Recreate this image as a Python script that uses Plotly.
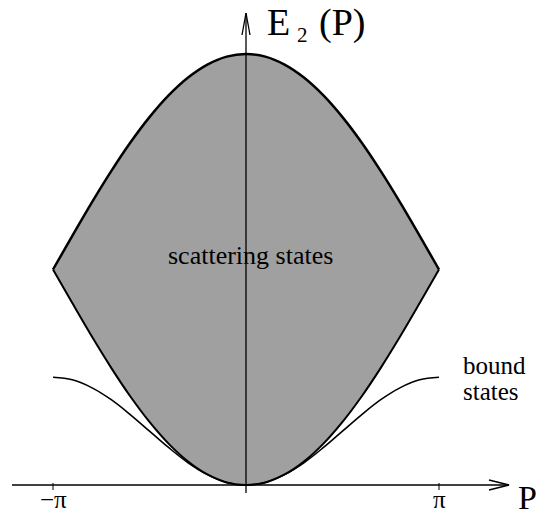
import plotly.graph_objects as go

# Total momentum P in units of pi
p_over_pi = [-1.0, -0.9, -0.8, -0.7, -0.6, -0.5, -0.4, -0.3, -0.2, -0.1, 0.0,
             0.1, 0.2, 0.3, 0.4, 0.5, 0.6, 0.7, 0.8, 0.9, 1.0]

# Upper edge of the two-particle continuum
upper_edge = [1.000, 1.156, 1.309, 1.454, 1.588, 1.707, 1.809, 1.891, 1.951, 1.988, 2.000,
              1.988, 1.951, 1.891, 1.809, 1.707, 1.588, 1.454, 1.309, 1.156, 1.000]

# Lower edge of the two-particle continuum
lower_edge = [1.000, 0.844, 0.691, 0.546, 0.412, 0.293, 0.191, 0.109, 0.049, 0.012, 0.000,
              0.012, 0.049, 0.109, 0.191, 0.293, 0.412, 0.546, 0.691, 0.844, 1.000]

# Bound-state branch
bound_branch = [0.500, 0.488, 0.452, 0.397, 0.327, 0.250, 0.173, 0.103, 0.048, 0.012, 0.000,
                0.012, 0.048, 0.103, 0.173, 0.250, 0.327, 0.397, 0.452, 0.488, 0.500]

tick_vals = [-1.0, 1.0]
tick_text = ["\u2212\u03c0", "\u03c0"]

W, H = 540, 519
X0, SX = 246.0, 193.0     # pixel column of P = 0, pixels per pi
Y0, SY = 485.0, 215.5     # pixel row of E = 0, pixels per energy unit
FONT = "Liberation Serif, Times New Roman, serif"


def xd(px):
    return (px - X0) / SX


def yd(py):
    return (Y0 - py) / SY


def mid_from_baseline(baseline, size):
    # vertical centre of a text box whose baseline sits at the given pixel row
    return yd(baseline - 0.3375 * size)


fig = go.Figure()

# shaded continuum
fig.add_trace(go.Scatter(
    x=p_over_pi + p_over_pi[::-1],
    y=upper_edge + lower_edge[::-1],
    mode="lines", fill="toself", fillcolor="#a0a0a0",
    line=dict(width=0), hoverinfo="skip", showlegend=False,
))

# continuum edges and bound states
for ys, w in ((upper_edge, 2.5), (lower_edge, 2.0), (bound_branch, 1.6)):
    fig.add_trace(go.Scatter(
        x=p_over_pi, y=ys, mode="lines",
        line=dict(color="black", width=w, shape="spline", smoothing=1.0),
        hoverinfo="skip", showlegend=False,
    ))

shapes = []
axis_line = dict(color="black", width=1.3)
# horizontal axis with open arrowhead
shapes.append(dict(type="line", xref="x", yref="y", x0=xd(12), y0=0, x1=xd(509), y1=0,
                   line=axis_line))
shapes.append(dict(type="path", xref="x", yref="y",
                   path=f"M{xd(489)},{yd(480)} L{xd(509)},0 L{xd(489)},{yd(490)}",
                   line=axis_line))
# vertical axis with open arrowhead
shapes.append(dict(type="line", xref="x", yref="y", x0=0, y0=yd(493), x1=0, y1=yd(13),
                   line=axis_line))
shapes.append(dict(type="path", xref="x", yref="y",
                   path=f"M{xd(242)},{yd(35)} L0,{yd(13)} L{xd(250)},{yd(35)}",
                   line=axis_line))
# ticks at +-pi
for tv in tick_vals:
    shapes.append(dict(type="line", xref="x", yref="y", x0=tv, x1=tv,
                       y0=yd(483), y1=yd(490), line=dict(color="black", width=1)))

annotations = []
for tv, tt in zip(tick_vals, tick_text):
    annotations.append(dict(x=tv, y=mid_from_baseline(508, 25), text=tt, showarrow=False,
                            xanchor="center", yanchor="middle",
                            font=dict(family=FONT, size=25, color="black")))


def label(text, x_px, baseline, size, anchor="left"):
    annotations.append(dict(x=xd(x_px), y=mid_from_baseline(baseline, size), text=text,
                            showarrow=False, xanchor=anchor, yanchor="middle",
                            font=dict(family=FONT, size=size, color="black")))


label("P", 516, 509, 34)
label("E", 265, 35, 38)
label("2", 295, 42, 21)
label("(P)", 317, 35, 38)
label("scattering states", 250.5, 264, 26, anchor="center")
label("bound", 461, 374, 25)
label("states", 461, 400, 25)

fig.update_layout(
    width=W, height=H, autosize=False,
    margin=dict(l=0, r=0, t=0, b=0, pad=0),
    paper_bgcolor="white", plot_bgcolor="white",
    xaxis=dict(range=[xd(0), xd(W)], visible=False, fixedrange=True),
    yaxis=dict(range=[yd(H), yd(0)], visible=False, fixedrange=True),
    shapes=shapes, annotations=annotations, showlegend=False,
)

fig.write_html("out.html")
